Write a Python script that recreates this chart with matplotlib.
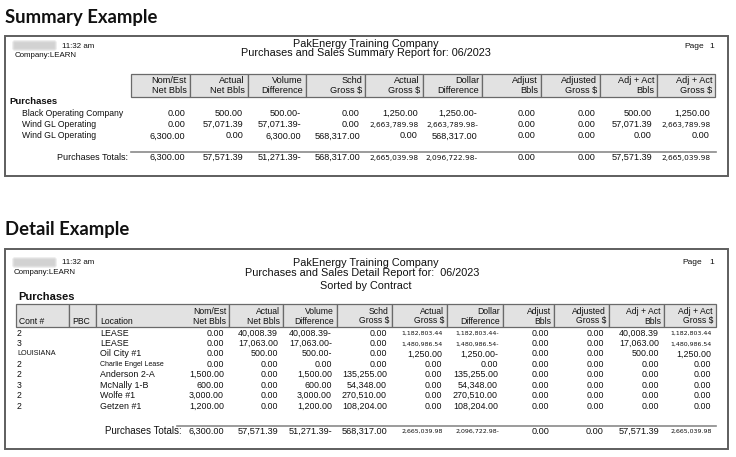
import numpy as np
import matplotlib.pyplot as plt
from matplotlib.patches import Rectangle, FancyBboxPatch

# ---- report contents ----
company = "PakEnergy Training Company"
summary_title = "Purchases and Sales Summary Report for: 06/2023"
detail_title = "Purchases and Sales Detail Report for:  06/2023"
detail_sort = "Sorted by Contract"

value_cols = ["Nom/Est\nNet Bbls", "Actual\nNet Bbls", "Volume\nDifference",
              "Schd\nGross $", "Actual\nGross $", "Dollar\nDifference",
              "Adjust\nBbls", "Adjusted\nGross $", "Adj + Act\nBbls",
              "Adj + Act\nGross $"]

summary_names = ["Black Operating Company", "Wind GL Operating", "Wind GL Operating"]
summary_vals = [
    ["0.00", "500.00", "500.00-", "0.00", "1,250.00", "1,250.00-", "0.00", "0.00", "500.00", "1,250.00"],
    ["0.00", "57,071.39", "57,071.39-", "0.00", "2,663,789.98", "2,663,789.98-", "0.00", "0.00", "57,071.39", "2,663,789.98"],
    ["6,300.00", "0.00", "6,300.00", "568,317.00", "0.00", "568,317.00", "0.00", "0.00", "0.00", "0.00"],
]
totals = ["6,300.00", "57,571.39", "51,271.39-", "568,317.00", "2,665,039.98",
          "2,096,722.98-", "0.00", "0.00", "57,571.39", "2,665,039.98"]

detail_cont = ["2", "3", "LOUISIANA", "2", "2", "3", "2", "2"]
detail_loc = ["LEASE", "LEASE", "Oil City #1", "Charlie Engel Lease",
              "Anderson 2-A", "McNally 1-B", "Wolfe #1", "Getzen #1"]
detail_vals = [
    ["0.00", "40,008.39", "40,008.39-", "0.00", "1,182,803.44", "1,182,803.44-", "0.00", "0.00", "40,008.39", "1,182,803.44"],
    ["0.00", "17,063.00", "17,063.00-", "0.00", "1,480,986.54", "1,480,986.54-", "0.00", "0.00", "17,063.00", "1,480,986.54"],
    ["0.00", "500.00", "500.00-", "0.00", "1,250.00", "1,250.00-", "0.00", "0.00", "500.00", "1,250.00"],
    ["0.00", "0.00", "0.00", "0.00", "0.00", "0.00", "0.00", "0.00", "0.00", "0.00"],
    ["1,500.00", "0.00", "1,500.00", "135,255.00", "0.00", "135,255.00", "0.00", "0.00", "0.00", "0.00"],
    ["600.00", "0.00", "600.00", "54,348.00", "0.00", "54,348.00", "0.00", "0.00", "0.00", "0.00"],
    ["3,000.00", "0.00", "3,000.00", "270,510.00", "0.00", "270,510.00", "0.00", "0.00", "0.00", "0.00"],
    ["1,200.00", "0.00", "1,200.00", "108,204.00", "0.00", "108,204.00", "0.00", "0.00", "0.00", "0.00"],
]

# ---- layout (pixels) ----
W, H = 736, 457
S_EDGES = [131, 190, 248, 306, 365, 423, 482, 541, 600, 657, 715]
D_CELLS = [16, 69, 96, 229, 283, 337, 392, 447, 503, 554, 609, 664, 716]
D_RIGHT = D_CELLS[3:]

INK = "#101010"
RPT = "Liberation Sans"

fig = plt.figure(figsize=(W / 100, H / 100), dpi=100)
ax = fig.add_axes([0, 0, 1, 1])
ax.set_xlim(0, W)
ax.set_ylim(H, 0)
ax.axis("off")


def txt(x, y, s, size=6.4, ha="left", weight="normal", family=RPT, color=INK):
    ax.text(x, y, s, fontsize=size, ha=ha, va="center", fontweight=weight,
            family=family, color=color)


def is_big(s):
    return len(s.rstrip("-")) > 10


def blur(x0, y0, w, h):
    # soft grey smudge where the user name was blurred out
    for k in range(7):
        pad = 3.0 - k * 0.45
        ax.add_patch(FancyBboxPatch((x0 + 3, y0 + 2), w - 6, h - 4,
                                    boxstyle="round,pad=%.2f" % max(pad, 0.1),
                                    fc="#c9c9c9", ec="none", alpha=0.2))


def frame(y0, y1):
    ax.add_patch(Rectangle((5, y0), 723, y1 - y0, fill=False, ec="#5e5e5e", lw=1.4))


def header_cells(edges, top, bot):
    for a, b in zip(edges[:-1], edges[1:]):
        ax.add_patch(Rectangle((a, top), b - a, bot - top, fc="#e2e2e2",
                               ec="#6a6a6a", lw=0.9))


def value(xr, y, v, size, big_size):
    if is_big(v):
        txt(xr + 1, y + 0.5, v, size=big_size, ha="right", family="DejaVu Sans")
    else:
        txt(xr, y, v, size=size, ha="right")


# ---- Summary ----
txt(5, 18, "Summary Example", size=13.3, weight="bold", family="Lato", color="#111111")
frame(36, 176)
blur(12, 41, 45, 9)
txt(62, 46, "11:32 am", size=5.7)
txt(15, 55.5, "Company:LEARN", size=5.7)
txt(366, 44, company, size=7.8, ha="center")
txt(366, 53, summary_title, size=7.8, ha="center")
txt(684, 47, "Page", size=6.0)
txt(714, 47, "1", size=6.0, ha="right")

header_cells(S_EDGES, 73.5, 97)
for i, lab in enumerate(value_cols):
    top, bot = lab.split("\n")
    txt(S_EDGES[i + 1] - 3, 80.5, top, size=6.6, ha="right")
    txt(S_EDGES[i + 1] - 3, 90.5, bot, size=6.6, ha="right")

txt(9, 102, "Purchases", size=6.8, weight="bold")
for r, (name, vals) in enumerate(zip(summary_names, summary_vals)):
    y = 113.5 + r * 11.2
    txt(22, y, name, size=6.2)
    for i, v in enumerate(vals):
        value(S_EDGES[i + 1] - 5, y, v, 6.6, 5.3)

ax.plot([131, 716], [152, 152], color="#8a8a8a", lw=1.2)
txt(128, 157.5, "Purchases Totals:", size=6.5, ha="right")
for i, v in enumerate(totals):
    value(S_EDGES[i + 1] - 5, 157.5, v, 6.6, 5.3)

# ---- Detail ----
txt(5, 229, "Detail Example", size=13.3, weight="bold", family="Lato", color="#111111")
frame(249, 449)
blur(12, 258, 45, 9)
txt(62, 263, "11:32 am", size=5.7)
txt(14, 273, "Company:LEARN", size=5.7)
txt(366, 263, company, size=7.8, ha="center")
txt(362, 273, detail_title, size=7.8, ha="center")
txt(366, 286, detail_sort, size=7.8, ha="center")
txt(682, 262, "Page", size=6.0)
txt(714, 262, "1", size=6.0, ha="right")
txt(18, 297, "Purchases", size=8.0, weight="bold")

header_cells(D_CELLS, 304, 326.5)
txt(19, 321, "Cont #", size=6.2)
txt(72, 321, "PBC", size=6.2)
txt(100, 321, "Location", size=6.2)
for i, lab in enumerate(value_cols):
    top, bot = lab.split("\n")
    txt(D_RIGHT[i] - 3, 311, top, size=6.2, ha="right")
    txt(D_RIGHT[i] - 3, 321, bot, size=6.2, ha="right")

for r in range(len(detail_cont)):
    y = 333 + r * 10.45
    c = detail_cont[r]
    txt(17, y, c, size=5.2 if len(c) > 3 else 6.2)
    loc = detail_loc[r]
    txt(100, y, loc, size=5.0 if len(loc) > 14 else 6.4)
    for i, v in enumerate(detail_vals[r]):
        value(D_RIGHT[i] - 5, y, v, 6.4, 4.5)

ax.plot([177, 716], [426, 426], color="#8a8a8a", lw=1.2)
txt(182, 431, "Purchases Totals:", size=7.0, ha="right")
for i, v in enumerate(totals):
    value(D_RIGHT[i] - 5, 431, v, 6.6, 4.5)

fig.savefig("out.png", dpi=100, facecolor="white")
